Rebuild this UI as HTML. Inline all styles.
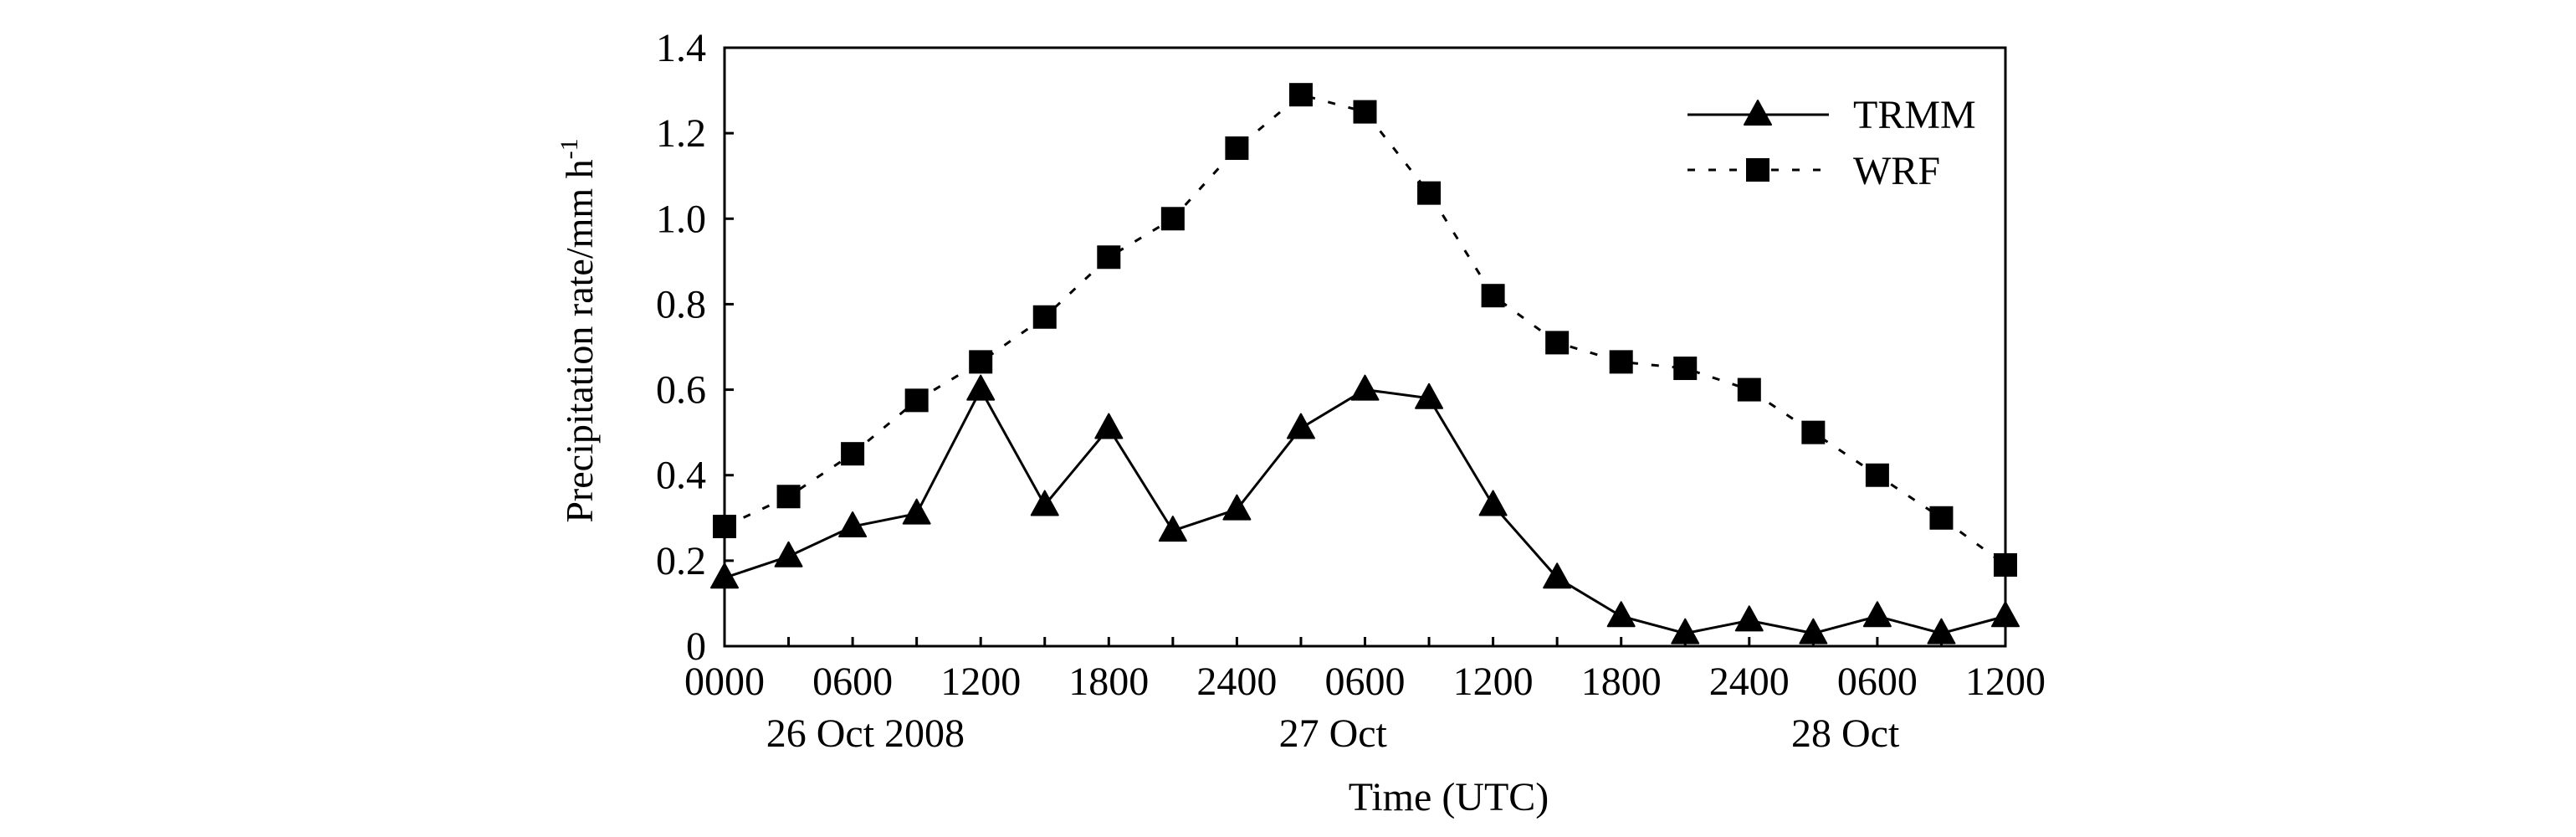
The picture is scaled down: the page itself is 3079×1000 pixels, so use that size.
<!DOCTYPE html>
<html><head><meta charset="utf-8"><style>
html,body{margin:0;padding:0;background:#fff;}
svg{display:block;font-family:"Liberation Serif",serif;}
</style></head><body>
<svg id="chart" width="3079" height="1000" viewBox="0 0 3079 1000" xmlns="http://www.w3.org/2000/svg">
<g id="plot"></g>
</svg>
<script>
const xTickLabels = ["0000","0600","1200","1800","2400","0600","1200","1800","2400","0600","1200"];
const yTickLabels = ["0","0.2","0.4","0.6","0.8","1.0","1.2","1.4"];
const yTickValues = [0,0.2,0.4,0.6,0.8,1.0,1.2,1.4];
const trmm = [0.16,0.21,0.28,0.31,0.60,0.33,0.51,0.27,0.32,0.51,0.60,0.58,0.33,0.16,0.07,0.03,0.06,0.03,0.07,0.03,0.07];
const wrf = [0.28,0.35,0.45,0.575,0.665,0.77,0.91,1.00,1.165,1.29,1.25,1.06,0.82,0.71,0.665,0.65,0.60,0.50,0.40,0.30,0.19];

const NS="http://www.w3.org/2000/svg";
const L=866,R=2397,T=57,B=772,YMAX=1.4,N=20;
const xS=i=>L+(R-L)*i/N;
const yS=v=>B-(B-T)*v/YMAX;
const g=document.getElementById('plot');
function mk(tag,attrs,parent){const e=document.createElementNS(NS,tag);for(const k in attrs)e.setAttribute(k,attrs[k]);(parent||g).appendChild(e);return e;}

// frame
const frame=mk('rect',{x:L,y:T,width:R-L,height:B-T,fill:'none',stroke:'#000','stroke-width':3});



// y ticks
yTickValues.forEach((v,i)=>{
  const y=yS(v);
  if(i>0&&i<yTickValues.length-1){const t=mk('line',{x1:L,x2:L+11,y1:y,y2:y,stroke:'#000','stroke-width':3});
  
  }
  const tx=mk('text',{x:L-22,y:y+16,'text-anchor':'end','font-size':48});
  tx.textContent=yTickLabels[i];
  
  
});
// x ticks
for(let i=1;i<N;i++){
  const t=mk('line',{x1:xS(i),x2:xS(i),y1:B,y2:B-11,stroke:'#000','stroke-width':3});
  
  
}
xTickLabels.forEach((s,i)=>{
  const tx=mk('text',{x:xS(i*2),y:830,'text-anchor':'middle','font-size':48});
  tx.textContent=s;
  
  
});
const dates=[["26 Oct 2008",xS(2.2)],["27 Oct",xS(9.5)],["28 Oct",xS(17.5)]];
dates.forEach(d=>{
  const tx=mk('text',{x:d[1],y:892,'text-anchor':'middle','font-size':48});
  tx.textContent=d[0];
  
  
});
const xt=mk('text',{x:(L+R)/2+100,y:968,'text-anchor':'middle','font-size':48});
xt.textContent="Time (UTC)";


const yt=mk('text',{x:0,y:0,'text-anchor':'middle','font-size':46,transform:'translate(708,395) rotate(-90)'});
yt.innerHTML='Precipitation rate/mm h<tspan dy="-18" font-size="30">-1</tspan>';



function tri(cx,cy,name){const p=mk('path',{d:`M${cx} ${cy-17} L${cx+16} ${cy+12} L${cx-16} ${cy+12} Z`,fill:'#000',stroke:'#000','stroke-width':2,'stroke-linejoin':'round'});

}
function sq(cx,cy,name){const p=mk('rect',{x:cx-14,y:cy-14,width:28,height:28,fill:'#000'});

}

const wl=mk('polyline',{points:wrf.map((v,i)=>xS(i)+','+yS(v)).join(' '),fill:'none',stroke:'#000','stroke-width':3,'stroke-dasharray':'9 16'});


const tl=mk('polyline',{points:trmm.map((v,i)=>xS(i)+','+yS(v)).join(' '),fill:'none',stroke:'#000','stroke-width':3});


wrf.forEach((v,i)=>sq(xS(i),yS(v),'wrf-point'));
trmm.forEach((v,i)=>tri(xS(i),yS(v),'trmm-point'));

// legend
const l1=mk('line',{x1:2017,x2:2186,y1:137,y2:137,stroke:'#000','stroke-width':3});


tri(2101,137,'legend-trmm-marker');
const lt1=mk('text',{x:2215,y:153,'font-size':48});
lt1.textContent="TRMM";


const l2=mk('line',{x1:2017,x2:2186,y1:203,y2:203,stroke:'#000','stroke-width':3,'stroke-dasharray':'9 16'});


sq(2101,203,'legend-wrf-marker');
const lt2=mk('text',{x:2215,y:220,'font-size':48});
lt2.textContent="WRF";


</script>
</body></html>
